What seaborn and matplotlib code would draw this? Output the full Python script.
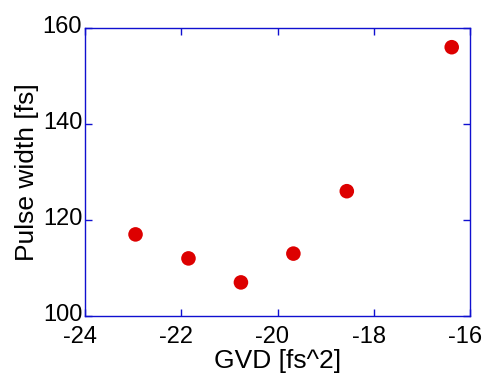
import matplotlib
matplotlib.use("Agg")
import matplotlib.pyplot as plt
import matplotlib.transforms as mtransforms
import seaborn as sns
import pandas as pd

gvd = [-22.95, -21.85, -20.76, -19.67, -18.56, -16.38]
pulse_width = [117, 112, 107, 113, 126, 156]
x_ticks = [-24, -22, -20, -18, -16]
y_ticks = [100, 120, 140, 160]

sns.set_style("white")
plt.rcParams["font.family"] = ["Liberation Sans", "DejaVu Sans"]

df = pd.DataFrame({"GVD": gvd, "Pulse width": pulse_width})

fig = plt.figure(figsize=(4.84, 3.74), dpi=100)
ax = fig.add_axes([85 / 484, 1 - 316 / 374, 385 / 484, 288 / 374])

sns.scatterplot(data=df, x="GVD", y="Pulse width", ax=ax, s=110,
                color="#DD0000", edgecolor="none", zorder=3)

ax.set_xlim(-24, -16)
ax.set_ylim(100, 160)
ax.set_xticks(x_ticks)
ax.set_yticks(y_ticks)
ax.set_xticklabels([str(t) for t in x_ticks])
ax.set_yticklabels([str(t) for t in y_ticks])

axis_blue = "#1010D0"
for side in ["left", "right", "top", "bottom"]:
    ax.spines[side].set_visible(True)
    ax.spines[side].set_color(axis_blue)
    ax.spines[side].set_linewidth(1.0)

ax.tick_params(direction="in", length=5, width=1, colors=axis_blue,
               top=True, right=True, bottom=True, left=True,
               labelcolor="black", labelsize=17)
ax.tick_params(axis="x", pad=7)
ax.tick_params(axis="y", pad=2)

# nudge tick labels: x labels a bit left, y labels a bit up
x_shift = mtransforms.ScaledTranslation(-5 / 100, 0, fig.dpi_scale_trans)
for lab in ax.get_xticklabels():
    lab.set_transform(lab.get_transform() + x_shift)
y_shift = mtransforms.ScaledTranslation(0, 4 / 100, fig.dpi_scale_trans)
for lab in ax.get_yticklabels():
    lab.set_transform(lab.get_transform() + y_shift)

ax.set_xlabel("GVD [fs^2]", fontsize=19, labelpad=1, color="black")
ax.set_ylabel("Pulse width [fs]", fontsize=19, labelpad=3, color="black")

fig.savefig("out.png", dpi=100)
